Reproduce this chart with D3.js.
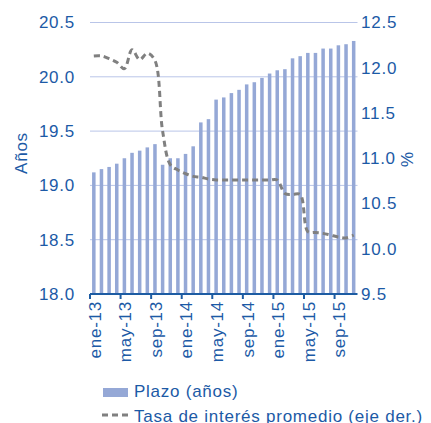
<!DOCTYPE html>
<html>
<head>
<meta charset="utf-8">
<script src="https://cdn.jsdelivr.net/npm/d3@7"></script>
<style>
  body { margin: 0; background: #fff; }
  svg text { font-family: "Liberation Sans", Arial, sans-serif; fill: #1c5aa6; letter-spacing: 0.75px; }
</style>
</head>
<body>
<svg id="chart" width="431" height="423"></svg>
<script>
// months ene-13 .. nov-15
const months = [
  'ene-13', 'feb-13', 'mar-13', 'abr-13', 'may-13', 'jun-13', 'jul-13', 'ago-13', 'sep-13', 'oct-13', 'nov-13', 'dic-13',
  'ene-14', 'feb-14', 'mar-14', 'abr-14', 'may-14', 'jun-14', 'jul-14', 'ago-14', 'sep-14', 'oct-14', 'nov-14', 'dic-14',
  'ene-15', 'feb-15', 'mar-15', 'abr-15', 'may-15', 'jun-15', 'jul-15', 'ago-15', 'sep-15', 'oct-15', 'nov-15'
];
const tickLabels = ['ene-13', 'may-13', 'sep-13', 'ene-14', 'may-14', 'sep-14', 'ene-15', 'may-15', 'sep-15'];

// plazo (años), left axis
const plazo = [
  19.12, 19.15, 19.17, 19.20, 19.25, 19.30, 19.32, 19.35, 19.38, 19.19, 19.25, 19.25,
  19.29, 19.36, 19.58, 19.61, 19.79, 19.81, 19.85, 19.88, 19.93, 19.95, 19.99, 20.03,
  20.06, 20.07, 20.17, 20.19, 20.22, 20.22, 20.26, 20.26, 20.29, 20.30, 20.33
];
// tasa de interés promedio (%), right axis
const tasa = [
  12.13, 12.13, 12.10, 12.06, 11.99, 12.20, 12.09, 12.16, 12.08, 11.30, 10.93, 10.87,
  10.83, 10.80, 10.79, 10.77, 10.76, 10.76, 10.76, 10.76, 10.76, 10.76, 10.76, 10.76,
  10.76, 10.61, 10.60, 10.60, 10.19, 10.18, 10.17, 10.15, 10.13, 10.12, 10.15
];
const leftTicks = [18.0, 18.5, 19.0, 19.5, 20.0, 20.5];
const rightTicks = [9.5, 10.0, 10.5, 11.0, 11.5, 12.0, 12.5];

const margin = { top: 22.5, right: 73.5, bottom: 129, left: 90 };
const width = 431, height = 423;
const barColor = '#95a8d6';
const gridColor = '#b9c5e8';
const axisColor = '#1d5ca3';
const lineColor = '#808080';

const svg = d3.select('#chart');

const x = d3.scaleBand()
  .domain(months)
  .range([margin.left, width - margin.right])
  .paddingInner(0.54)
  .paddingOuter(0.27);
const yL = d3.scaleLinear().domain([18, 20.5]).range([height - margin.bottom, margin.top]);
const yR = d3.scaleLinear().domain([9.5, 12.5]).range([height - margin.bottom, margin.top]);

// gridlines
svg.append('g')
  .selectAll('line')
  .data(leftTicks.slice(1))
  .join('line')
  .attr('x1', margin.left)
  .attr('x2', width - margin.right)
  .attr('y1', (d) => yL(d))
  .attr('y2', (d) => yL(d))
  .attr('stroke', gridColor)
  .attr('stroke-width', 1);

// bars
svg.append('g')
  .selectAll('rect')
  .data(plazo)
  .join('rect')
  .attr('x', (d, i) => x(months[i]))
  .attr('width', x.bandwidth())
  .attr('y', (d) => yL(d))
  .attr('height', (d) => yL(18) - yL(d))
  .attr('fill', barColor);

// dashed line
const line = d3.line()
  .x((d, i) => x(months[i]) + x.bandwidth() / 2)
  .y((d) => yR(d))
  .curve(d3.curveCatmullRom);
svg.append('path')
  .datum(tasa)
  .attr('d', line)
  .attr('fill', 'none')
  .attr('stroke', lineColor)
  .attr('stroke-width', 3)
  .attr('stroke-dasharray', '6,4');

// bottom axis
const y0 = yL(18);
svg.append('line')
  .attr('x1', margin.left)
  .attr('x2', width - margin.right)
  .attr('y1', y0)
  .attr('y2', y0)
  .attr('stroke', axisColor)
  .attr('stroke-width', 2);

svg.append('g')
  .selectAll('line')
  .data(tickLabels)
  .join('line')
  .attr('x1', (d) => x(d) - x.step() * 0.27)
  .attr('x2', (d) => x(d) - x.step() * 0.27)
  .attr('y1', y0)
  .attr('y2', y0 + 5)
  .attr('stroke', axisColor)
  .attr('stroke-width', 2);

svg.append('g')
  .selectAll('text')
  .data(tickLabels)
  .join('text')
  .attr('transform', (d) => `translate(${x(d) + x.bandwidth() / 2 + 1},${y0 + 7}) rotate(-90)`)
  .attr('text-anchor', 'end')
  .attr('dy', '0.35em')
  .style('font-size', '17px')
  .text((d) => d);

// left axis labels
svg.append('g')
  .selectAll('text')
  .data(leftTicks)
  .join('text')
  .attr('x', 75)
  .attr('y', (d) => yL(d))
  .attr('dy', '0.35em')
  .attr('text-anchor', 'end')
  .style('font-size', '17px')
  .text((d) => d.toFixed(1));

// right axis labels
svg.append('g')
  .selectAll('text')
  .data(rightTicks)
  .join('text')
  .attr('x', 361)
  .attr('y', (d) => yR(d))
  .attr('dy', '0.35em')
  .style('font-size', '17px')
  .text((d) => d.toFixed(1));

// axis titles
svg.append('text')
  .attr('transform', 'translate(21,153) rotate(-90)')
  .attr('text-anchor', 'middle')
  .attr('dy', '0.35em')
  .style('font-size', '17px')
  .text('Años');
svg.append('text')
  .attr('transform', 'translate(407,160) rotate(90)')
  .attr('text-anchor', 'middle')
  .attr('dy', '0.35em')
  .style('font-size', '17px')
  .text('%');

// legend
const legend = svg.append('g');
legend.append('rect')
  .attr('x', 103).attr('y', 388)
  .attr('width', 25).attr('height', 9)
  .attr('fill', barColor);
legend.append('text')
  .attr('x', 134).attr('y', 396.5)
  .style('font-size', '17px')
  .text('Plazo (años)');
legend.append('line')
  .attr('x1', 102).attr('x2', 128)
  .attr('y1', 415).attr('y2', 415)
  .attr('stroke', lineColor)
  .attr('stroke-width', 3)
  .attr('stroke-dasharray', '6,4');
legend.append('text')
  .attr('x', 134).attr('y', 421.5)
  .style('font-size', '17px')
  .text('Tasa de interés promedio (eje der.)');
</script>
</body>
</html>
